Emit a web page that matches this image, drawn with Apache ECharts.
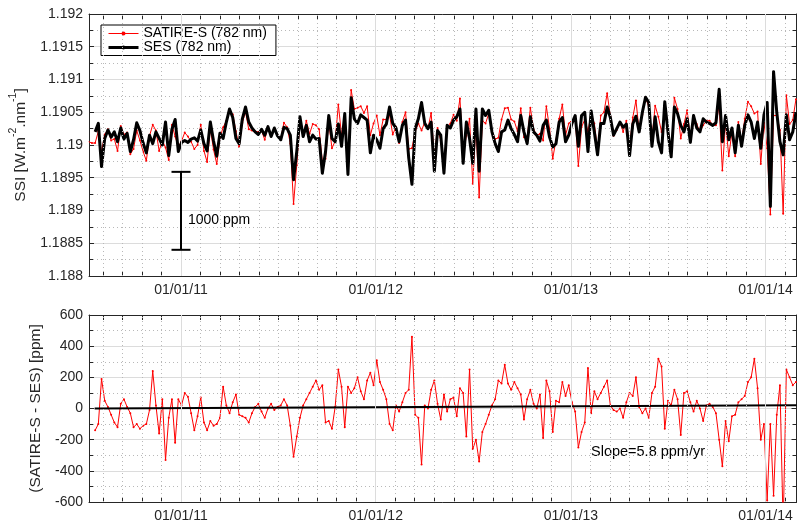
<!DOCTYPE html>
<html><head><meta charset="utf-8">
<script src="https://cdn.jsdelivr.net/npm/echarts@6/dist/echarts.min.js"></script>
<style>html,body{margin:0;padding:0;background:#fff}#c{width:797px;height:523px}</style>
</head><body><div id="c"></div>
<script>
// ---------------- data ----------------
const seriesStartDate = '2010-07-12';   // first daily sample shown
const stepDays = 6;                     // spacing of the read-off samples
const xAxisRangeDays = [-172.5, 1154];  // days relative to 01/01/11
const majorTickDates = ['2011-01-01', '2012-01-01', '2013-01-01', '2014-01-01'];
const majorTickLabels = ['01/01/11', '01/01/12', '01/01/13', '01/01/14'];

const satireName = 'SATIRE-S (782 nm)';
const sesName = 'SES (782 nm)';

const satireSSI = [
1.19005,1.19003,1.19003,1.19021,1.1899,1.19016,1.19024,1.19007,1.19009,1.18991,1.19029,1.19016,
1.19019,1.18986,1.18994,1.19022,1.19007,1.1899,1.18976,1.19014,1.19031,1.19022,1.18991,1.19007,
1.18996,1.18977,1.19031,1.19013,1.18997,1.19006,1.19019,1.19013,1.19005,1.18994,1.19,1.19031,
1.18991,1.18974,1.19025,1.18993,1.18971,1.19011,1.19027,1.19037,1.19051,1.19047,1.19021,1.18997,
1.19034,1.19051,1.19024,1.19022,1.19021,1.1902,1.19022,1.19008,1.19028,1.19017,1.19025,1.19015,
1.1901,1.19034,1.19027,1.19002,1.1891,1.18969,1.19036,1.19015,1.19037,1.19017,1.19032,1.1903,
1.19024,1.18975,1.18979,1.19035,1.18995,1.19006,1.19062,1.19015,1.19034,1.18972,1.19084,1.19055,
1.19057,1.19059,1.19049,1.19059,1.19015,1.19033,1.19045,1.19015,1.19039,1.19039,1.19046,1.19016,
1.19028,1.19003,1.19035,1.1905,1.18994,1.18995,1.1902,1.19033,1.19022,1.19035,1.19025,1.19049,
1.18981,1.19026,1.19007,1.18968,1.19028,1.19033,1.19046,1.19037,1.19071,1.18984,1.19014,1.1904,
1.18941,1.19031,1.1892,1.19037,1.19033,1.19048,1.19022,1.19009,1.19011,1.19039,1.19056,1.19057,
1.19039,1.19036,1.19021,1.19056,1.19012,1.19009,1.19057,1.19024,1.19015,1.19017,1.19007,1.19059,
1.19025,1.18979,1.19008,1.1904,1.19062,1.19015,1.19033,1.19038,1.19043,1.18968,1.19027,1.19039,
1.19021,1.19048,1.19033,1.18992,1.19045,1.1905,1.19079,1.19044,1.19014,1.19023,1.19035,1.1902,
1.19037,1.18996,1.19042,1.19068,1.19021,1.19046,1.19073,1.19058,1.1901,1.1906,1.19043,1.1902,
1.19051,1.19026,1.18984,1.19072,1.19055,1.1901,1.19032,1.19053,1.19009,1.19043,1.19032,1.1902,
1.1903,1.19037,1.19037,1.19031,1.1903,1.19061,1.18961,1.19035,1.18983,1.1902,1.18983,1.19035,
1.19005,1.1904,1.19066,1.19059,1.19048,1.19051,1.18971,1.19034,1.18995,1.18894,1.19045,1.19045,
1.19023,1.18895,1.19076,1.19032,1.19038,1.1907
];

const sesSSI = [
null,null,1.1902,1.19033,1.18967,1.1901,1.19023,1.19012,1.1902,1.19005,1.19026,1.19009,
1.19018,1.1899,1.19008,1.19034,1.19022,1.19003,1.18988,1.19015,1.19002,1.1902,1.1901,1.19,
1.19035,1.18984,1.19024,1.19039,1.1899,1.19004,1.19007,1.19004,1.19009,1.19011,1.19006,1.19023,
1.19002,1.18991,1.19035,1.19006,1.18983,1.19018,1.1901,1.19035,1.19055,1.19042,1.1901,1.19002,
1.1904,1.19058,1.19035,1.19026,1.1902,1.19016,1.19024,1.19015,1.19028,1.19013,1.19026,1.19014,
1.19008,1.19027,1.19025,1.19015,1.18947,1.1899,1.19043,1.19013,1.1903,1.19005,1.19015,1.19009,
1.1901,1.18957,1.1899,1.19045,1.1901,1.19005,1.19032,1.18998,1.19048,1.18955,1.19072,1.1904,
1.19033,1.19046,1.19042,1.19038,1.18988,1.19015,1.19008,1.18995,1.19025,1.19032,1.19058,1.19033,
1.19026,1.19005,1.1903,1.19038,1.1898,1.1894,1.19025,1.1904,1.19065,1.19033,1.19025,1.19035,
1.1896,1.19022,1.19015,1.18957,1.1903,1.19026,1.19038,1.19043,1.19055,1.18972,1.19035,1.1901,
1.18972,1.19055,1.1896,1.19055,1.19045,1.19053,1.1902,1.19002,1.1899,1.1902,1.19023,1.19038,
1.19025,1.19016,1.19005,1.19045,1.1902,1.19002,1.19043,1.1902,1.19015,1.19006,1.1903,1.19038,
1.19012,1.18997,1.19002,1.19035,1.19042,1.19005,1.19015,1.19033,1.19045,1.18998,1.19045,1.1905,
1.1899,1.19052,1.1902,1.18985,1.19033,1.19033,1.19058,1.19042,1.19015,1.19025,1.19035,1.19027,
1.19032,1.18984,1.19032,1.19044,1.1902,1.1905,1.19073,1.19065,1.18998,1.19043,1.19005,1.18988,
1.19066,1.1902,1.18982,1.19058,1.19048,1.1903,1.1902,1.1904,1.19004,1.19045,1.19026,1.1902,
1.1904,1.19035,1.19033,1.1903,1.19034,1.19085,1.19005,1.19045,1.19008,1.19026,1.18988,1.1903,
1.18998,1.1903,1.19046,1.19035,1.1901,1.19035,1.18995,1.19046,1.19065,1.18906,1.19112,1.1905,
1.19005,1.18985,1.19046,1.19008,1.1902,1.1905
];

const diffPpm = [
null,null,-140,-100,190,50,10,-40,-90,-120,30,60,
10,-30,-120,-100,-130,-110,-100,-10,240,20,-160,60,
-330,-60,60,-220,60,20,100,75,-30,-140,-50,70,
-90,-140,-80,-110,-100,-60,140,20,-30,40,90,-40,
-50,-60,-90,-30,10,30,-20,-60,0,30,-10,10,
20,60,20,-110,-310,-180,-60,20,60,100,140,180,
120,150,-90,
-80,-130,10,250,140,-120,140,100,130,200,110,60,
180,230,150,310,170,120,60,-100,-140,20,-20,40,
100,120,460,-40,-60,-360,20,0,120,180,30,-70,
90,-20,60,70,-50,130,100,-180,250,-260,-200,-340,
-150,-100,-40,20,60,180,160,280,160,120,170,130,
90,-70,60,120,30,0,90,-190,180,110,-150,50,
40,170,80,
150,40,-20,-250,-150,-90,260,-30,110,60,100,140,
180,20,-10,-20,0,-60,40,100,80,200,10,-30,
0,-60,100,140,320,270,-130,50,20,120,60,-170,
100,110,40,-20,50,0,-80,20,30,10,-30,-200,
-370,-80,-210,-50,-40,40,60,80,170,200,320,130,
-200,-100,-590,-100,-560,-40,150,-760,250,200,150,170
];

const trendDates = ['2010-07-23', '2014-02-28'];
const trendPpm = [0.5, 21.4];
const slopeText = 'Slope=5.8 ppm/yr';

const errBarDate = '2011-01-01';
const errBarRange = [1.18959, 1.1884];
const errBarLabel = '1000 ppm';

const ssiRange = [1.188, 1.192, 0.0005];
const diffRange = [-600, 600, 200];

// ---------------- helpers ----------------
const EPOCH = Date.UTC(2011, 0, 1);
function dayOf(s) { const p = s.split('-').map(Number); return (Date.UTC(p[0], p[1] - 1, p[2]) - EPOCH) / 86400000; }
const x0 = dayOf(seriesStartDate);
const xs = satireSSI.map((_, i) => x0 + i * stepDays);
const [xMin, xMax] = xAxisRangeDays;
const majorDays = majorTickDates.map(dayOf);
const minorDays = [];
{
  const s0 = (majorDays[1] - majorDays[0]) / 10;
  for (let d = majorDays[0] - s0; d >= xMin; d -= s0) minorDays.push(d);
  for (let j = 0; j < majorDays.length - 1; j++) {
    const s = (majorDays[j + 1] - majorDays[j]) / 10;
    for (let k = 1; k < 10; k++) minorDays.push(majorDays[j] + k * s);
  }
  const sl = (majorDays[3] - majorDays[2]) / 10;
  for (let d = majorDays[3] + sl; d <= xMax; d += sl) minorDays.push(d);
}
const allTickDays = majorDays.concat(minorDays).sort((a, b) => a - b);

const FONT = '"Liberation Sans", Arial, Helvetica, sans-serif';
const AX = '#262626';

function xAxisCfg(gridIndex, pos, showLabels) {
  return {
    type: 'value', gridIndex, position: pos, min: xMin, max: xMax,
    axisLine: { show: true, onZero: false, lineStyle: { color: AX, width: 1 } },
    axisTick: { show: true, inside: true, length: 5, customValues: allTickDays, lineStyle: { color: AX } },
    axisLabel: {
      show: showLabels, customValues: majorDays, color: AX, fontSize: 14, fontFamily: FONT, margin: 7,
      formatter: v => { let best = 0; majorDays.forEach((m, j) => { if (Math.abs(m - v) < Math.abs(majorDays[best] - v)) best = j; }); return majorTickLabels[best]; }
    },
    splitLine: { show: false }, minorTick: { show: false }, minorSplitLine: { show: false }
  };
}
function yAxisCfg(gridIndex, pos, range, main, name, nameGap, nameTextStyle) {
  return {
    type: 'value', gridIndex, position: pos, min: range[0], max: range[1], interval: range[2],
    name: main ? name : '', nameLocation: 'middle', nameGap: nameGap, nameTextStyle: nameTextStyle,
    axisLine: { show: true, onZero: false, lineStyle: { color: AX, width: 1 } },
    axisTick: { show: true, inside: true, length: 5, lineStyle: { color: AX } },
    minorTick: { show: true, splitNumber: 2, length: 4, lineStyle: { color: AX } },
    axisLabel: { show: main, color: AX, fontSize: 14, fontFamily: FONT, margin: 6 },
    splitLine: { show: main, lineStyle: { color: '#dcdcdc', width: 1 } },
    minorSplitLine: { show: main, lineStyle: { color: '#b8b8b8', width: 1, type: [1, 3] } }
  };
}
function gridLineSeries(xi, yi) {
  return {
    type: 'line', xAxisIndex: xi, yAxisIndex: yi, data: [], silent: true, z: 1,
    markLine: {
      silent: true, symbol: ['none', 'none'], animation: false, label: { show: false },
      emphasis: { disabled: true },
      data: majorDays.map(d => ({ xAxis: d, lineStyle: { color: '#dcdcdc', width: 1, type: 'solid' } }))
        .concat(minorDays.map(d => ({ xAxis: d, lineStyle: { color: '#b8b8b8', width: 1, type: [1, 3] } })))
    }
  };
}

const chart = echarts.init(document.getElementById('c'), null, { renderer: 'canvas' });
const option = {
  animation: false,
  backgroundColor: '#fff',
  grid: [
    { left: 89, top: 14, width: 707.5, height: 262 },
    { left: 89, top: 315, width: 707.5, height: 188 }
  ],
  xAxis: [xAxisCfg(0, 'bottom', true), xAxisCfg(0, 'top', false), xAxisCfg(1, 'bottom', true), xAxisCfg(1, 'top', false)],
  yAxis: [
    yAxisCfg(0, 'left', ssiRange, true, '{a|SSI [W.m}{s|-2}{a|.nm}{s|-1}{a|]}', 55, {
      rich: {
        a: { fontSize: 15.5, fontFamily: FONT, color: AX, lineHeight: 26 },
        s: { fontSize: 10.5, fontFamily: FONT, color: AX, lineHeight: 12, verticalAlign: 'top' }
      }
    }),
    yAxisCfg(0, 'right', ssiRange, false),
    yAxisCfg(1, 'left', diffRange, true, '(SATIRE-S - SES) [ppm]', 45, { fontSize: 15.5, fontFamily: FONT, color: AX }),
    yAxisCfg(1, 'right', diffRange, false)
  ],
  legend: {
    show: true, orient: 'vertical', left: 101, top: 25,
    backgroundColor: '#fff', borderColor: '#000', borderWidth: 1,
    padding: [1.5, 9, 1, 6], itemGap: 0, itemWidth: 30, itemHeight: 5,
    textStyle: { fontSize: 14, fontFamily: FONT, color: '#000', lineHeight: 13.4 },
    data: [
      { name: satireName, lineStyle: { width: 1 } },
      { name: sesName, lineStyle: { width: 3 } }
    ]
  },
  graphic: [
    { type: 'text', left: 591, top: 444, silent: true, style: { text: slopeText, fontSize: 14.5, fontFamily: FONT, fill: '#000' } }
  ],
  series: [
    gridLineSeries(0, 0),
    gridLineSeries(2, 2),
    {
      name: satireName, type: 'line', xAxisIndex: 0, yAxisIndex: 0, z: 3,
      data: xs.map((x, i) => [x, satireSSI[i]]),
      showSymbol: true, symbol: 'circle', symbolSize: 2,
      lineStyle: { color: '#ff0000', width: 1 }, itemStyle: { color: '#ff0000' }
    },
    {
      name: sesName, type: 'line', xAxisIndex: 0, yAxisIndex: 0, z: 4,
      data: xs.map((x, i) => [x, sesSSI[i]]),
      showSymbol: false, symbol: 'none',
      lineStyle: { color: '#000', width: 3, join: 'round' }, itemStyle: { color: '#000' }
    },
    {
      type: 'custom', xAxisIndex: 0, yAxisIndex: 0, z: 5, silent: true,
      data: [[dayOf(errBarDate), errBarRange[0], errBarRange[1]]],
      encode: { x: 0, y: [1, 2] },
      renderItem: (params, api) => {
        const t = api.coord([api.value(0), api.value(1)]);
        const b = api.coord([api.value(0), api.value(2)]);
        const x = t[0], cap = 9.5;
        const ls = { stroke: '#000', lineWidth: 2 };
        return {
          type: 'group', children: [
            { type: 'line', shape: { x1: x, y1: t[1], x2: x, y2: b[1] }, style: ls },
            { type: 'line', shape: { x1: x - cap, y1: t[1], x2: x + cap, y2: t[1] }, style: ls },
            { type: 'line', shape: { x1: x - cap, y1: b[1], x2: x + cap, y2: b[1] }, style: ls },
            { type: 'text', x: x + 7, y: (t[1] + b[1]) / 2 + 9, style: { text: errBarLabel, fill: '#000', fontSize: 14, fontFamily: FONT, align: 'left', verticalAlign: 'middle' } }
          ]
        };
      }
    },
    {
      name: 'diff', type: 'line', xAxisIndex: 2, yAxisIndex: 2, z: 3,
      data: xs.map((x, i) => [x, diffPpm[i]]),
      showSymbol: true, symbol: 'circle', symbolSize: 2,
      lineStyle: { color: '#ff0000', width: 1 }, itemStyle: { color: '#ff0000' }
    },
    {
      name: 'trend', type: 'line', xAxisIndex: 2, yAxisIndex: 2, z: 4,
      data: trendDates.map((d, i) => [dayOf(d), trendPpm[i]]),
      showSymbol: false, symbol: 'none',
      lineStyle: { color: '#000', width: 2 }
    }
  ]
};
chart.setOption(option);
</script>
</body></html>
